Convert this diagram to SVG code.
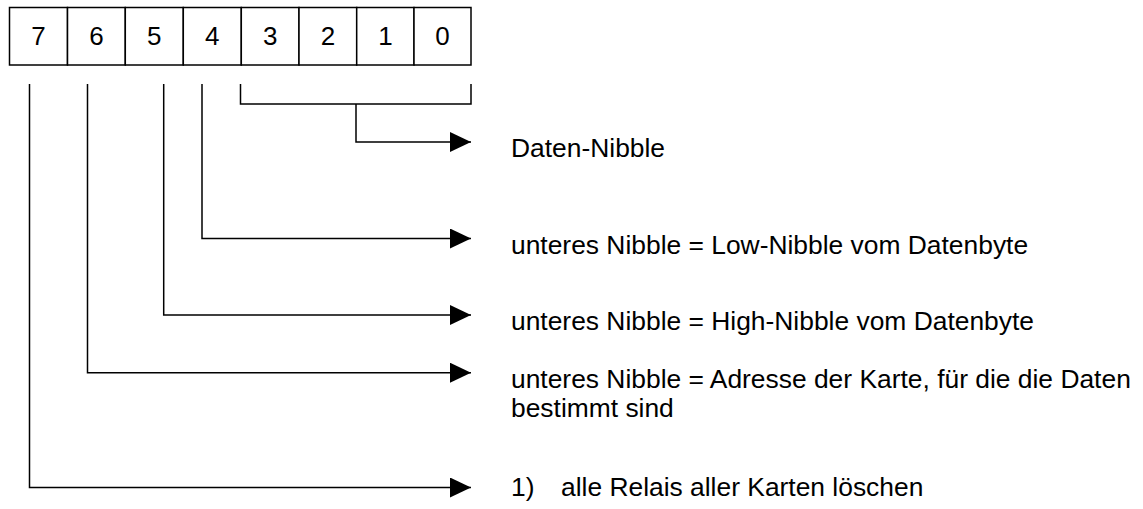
<svg xmlns="http://www.w3.org/2000/svg" width="1143" height="509" viewBox="0 0 1143 509">
  <style>
    .cell { fill: #fff; stroke: #000; stroke-width: 1.5; }
    .digit { font-family: "Liberation Sans", Arial, sans-serif; font-size: 26px; fill: #000; text-anchor: middle; }
    .label { font-family: "Liberation Sans", Arial, sans-serif; font-size: 26.4px; fill: #000; }
    .wire { fill: none; stroke: #000; stroke-width: 1.5; }
  </style>
  <defs>
    <marker id="arrow" markerUnits="userSpaceOnUse" markerWidth="22" markerHeight="22" refX="21" refY="10" orient="auto">
      <path d="M0,0 L21,10 L0,20 Z" fill="#000"/>
    </marker>
  </defs>
  <rect width="1143" height="509" fill="#fff"/>

  <!-- bit cells of the command byte -->
  <g id="bit7"><rect class="cell" x="9.5" y="7.5" width="58" height="57.5"/><text class="digit" x="38.5" y="45">7</text></g>
  <g id="bit6"><rect class="cell" x="67.5" y="7.5" width="57.8" height="57.5"/><text class="digit" x="96.4" y="45">6</text></g>
  <g id="bit5"><rect class="cell" x="125.3" y="7.5" width="58" height="57.5"/><text class="digit" x="154.3" y="45">5</text></g>
  <g id="bit4"><rect class="cell" x="183.3" y="7.5" width="58" height="57.5"/><text class="digit" x="212.3" y="45">4</text></g>
  <g id="bit3"><rect class="cell" x="241.3" y="7.5" width="57.7" height="57.5"/><text class="digit" x="270.2" y="45">3</text></g>
  <g id="bit2"><rect class="cell" x="299" y="7.5" width="57.7" height="57.5"/><text class="digit" x="327.9" y="45">2</text></g>
  <g id="bit1"><rect class="cell" x="356.7" y="7.5" width="57.3" height="57.5"/><text class="digit" x="385.4" y="45">1</text></g>
  <g id="bit0"><rect class="cell" x="414" y="7.5" width="57" height="57.5"/><text class="digit" x="442.5" y="45">0</text></g>

  <!-- connectors from bits to descriptions -->
  <g id="connectors">
    <path class="wire" d="M240.5,84 V104 H471 V84"/>
    <path class="wire" d="M356,104 V142 H471" marker-end="url(#arrow)"/>
    <path class="wire" d="M202,84 V238.5 H471" marker-end="url(#arrow)"/>
    <path class="wire" d="M163.7,84 V315 H471" marker-end="url(#arrow)"/>
    <path class="wire" d="M87.5,84 V372.7 H471" marker-end="url(#arrow)"/>
    <path class="wire" d="M29.5,84 V487.5 H471" marker-end="url(#arrow)"/>
  </g>

  <!-- descriptions -->
  <g id="desc-data"><text class="label" x="511" y="157">Daten-Nibble</text></g>
  <g id="desc-low"><text class="label" x="511" y="253.5">unteres Nibble = Low-Nibble vom Datenbyte</text></g>
  <g id="desc-high"><text class="label" x="511" y="330">unteres Nibble = High-Nibble vom Datenbyte</text></g>
  <g id="desc-addr">
    <text class="label" x="511" y="387.5">unteres Nibble = Adresse der Karte, für die die Daten</text>
    <text class="label" x="511" y="416.5">bestimmt sind</text>
  </g>
  <g id="desc-clear">
    <text class="label" x="511" y="496">1)</text>
    <text class="label" x="561" y="496">alle Relais aller Karten löschen</text>
  </g>
</svg>
